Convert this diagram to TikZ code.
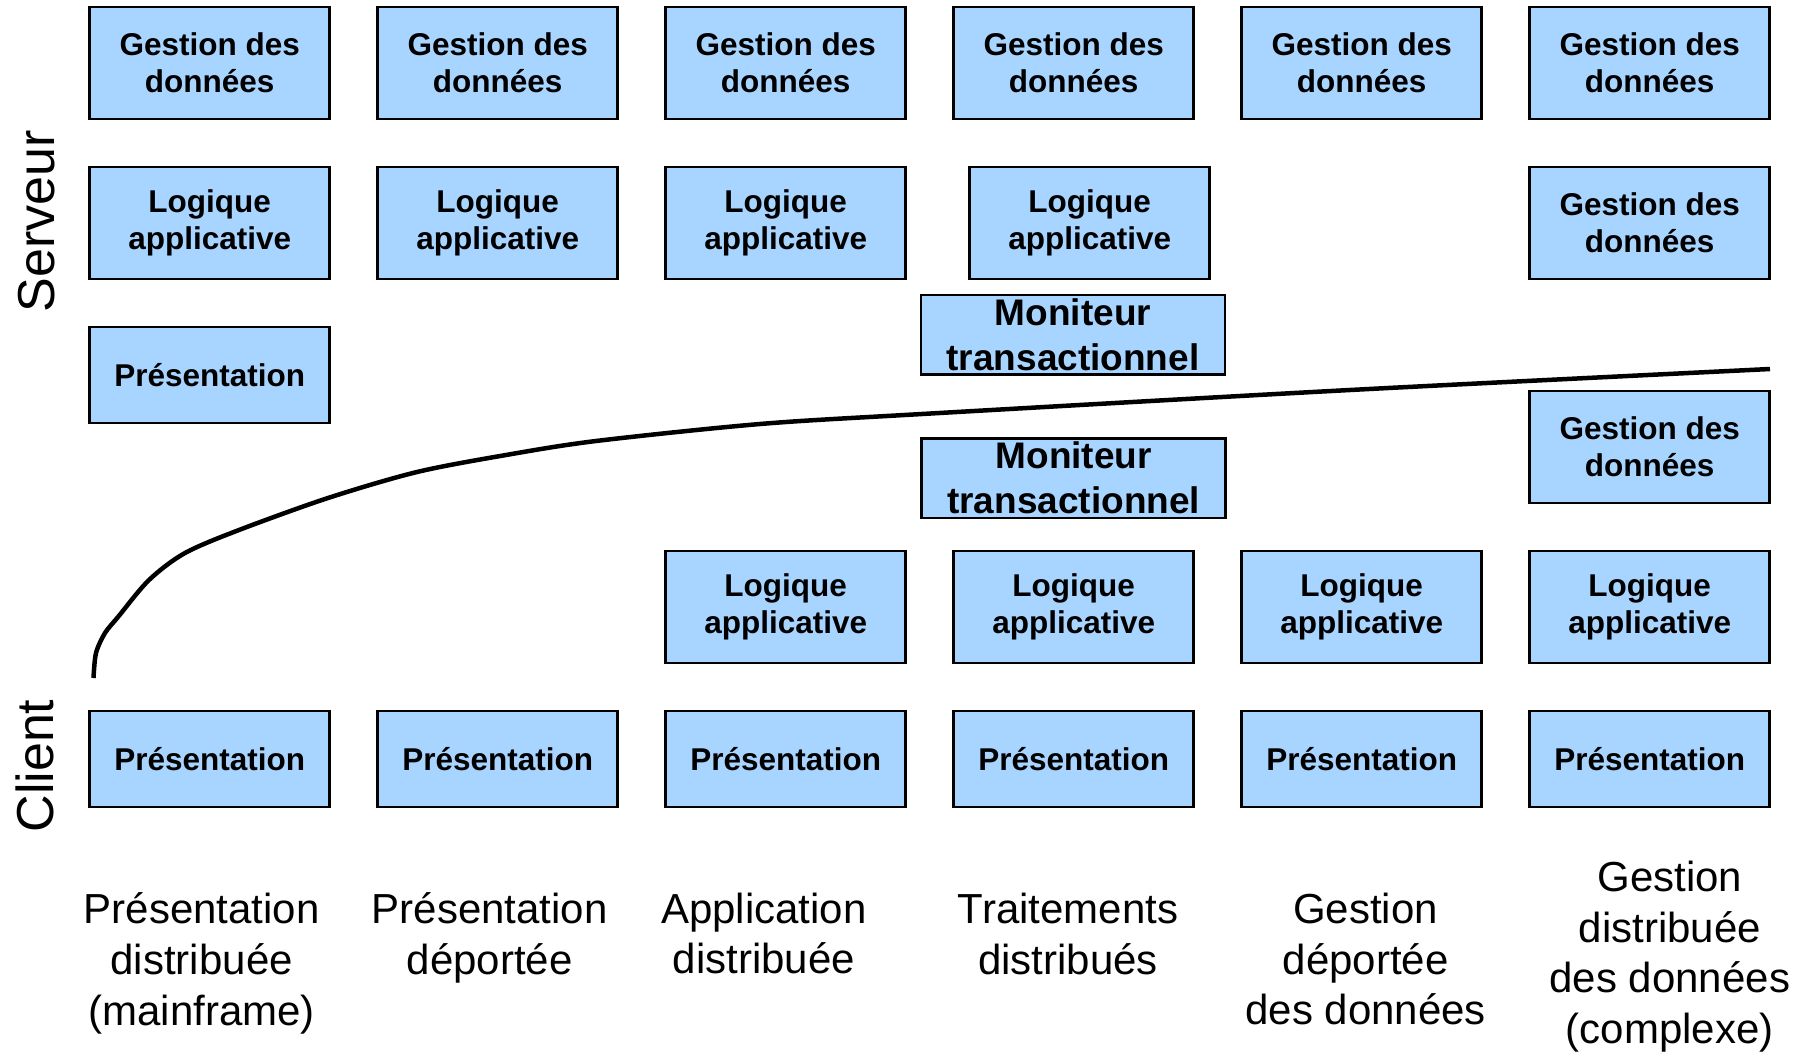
\documentclass[tikz,border=0pt]{standalone}
\usepackage{fontspec}
\setmainfont{Liberation Sans}
\usetikzlibrary{positioning}
\definecolor{bleu}{HTML}{A8D5FF}

\begin{document}
\begin{tikzpicture}[x=1pt,y=-1pt]
\tikzset{BoxStyle/.style={draw, line width=2.5pt, fill=bleu, minimum width=240pt,
  minimum height=112pt, inner sep=0pt, outer sep=0pt, align=center,
  font=\bfseries\fontsize{31.5}{37}\selectfont}}
\tikzset{PresStyle/.style={BoxStyle, minimum height=96pt}}
\tikzset{TpmStyle/.style={BoxStyle, minimum width=304pt, minimum height=79.5pt,
  font=\bfseries\fontsize{37}{45}\selectfont}}
\tikzset{LegendStyle/.style={align=center, inner sep=0pt,
  font=\fontsize{42}{50.7}\selectfont}}
\tikzset{SideStyle/.style={rotate=90, inner sep=0pt, font=\fontsize{52}{60}\selectfont}}
\useasboundingbox (0,0) rectangle (1807,1055);

% cote serveur
\node[BoxStyle] (D1) at (209.7,62.8) {Gestion des\\données};
\node[BoxStyle, right=48pt of D1] (D2) {Gestion des\\données};
\node[BoxStyle, right=48pt of D2] (D3) {Gestion des\\données};
\node[BoxStyle, right=48pt of D3] (D4) {Gestion des\\données};
\node[BoxStyle, right=48pt of D4] (D5) {Gestion des\\données};
\node[BoxStyle, right=48pt of D5] (D6) {Gestion des\\données};
\node[BoxStyle, below=48pt of D1] (L1) {Logique\\applicative};
\node[BoxStyle, below=48pt of D2] (L2) {Logique\\applicative};
\node[BoxStyle, below=48pt of D3] (L3) {Logique\\applicative};
\node[BoxStyle, below=48pt of D4, xshift=16pt] (L4) {Logique\\applicative};
\node[BoxStyle, below=48pt of D6] (D6b) {Gestion des\\données};
\node[PresStyle, below=48pt of L1] (P1) {Présentation};
\node[TpmStyle] (M4) at (1073,334.8) {Moniteur\\transactionnel};

% cote client
\node[PresStyle] (C1) at (209.7,758.9) {Présentation};
\node[PresStyle, right=48pt of C1] (C2) {Présentation};
\node[PresStyle, right=48pt of C2] (C3) {Présentation};
\node[PresStyle, right=48pt of C3] (C4) {Présentation};
\node[PresStyle, right=48pt of C4] (C5) {Présentation};
\node[PresStyle, right=48pt of C5] (C6) {Présentation};
\node[BoxStyle, above=48pt of C3] (A3) {Logique\\applicative};
\node[BoxStyle, above=48pt of C4] (A4) {Logique\\applicative};
\node[BoxStyle, above=48pt of C5] (A5) {Logique\\applicative};
\node[BoxStyle, above=48pt of C6] (A6) {Logique\\applicative};
\node[TpmStyle, above=33pt of A4] (M4b) {Moniteur\\transactionnel};
\node[BoxStyle, above=48pt of A6] (G6) {Gestion des\\données};

\node[SideStyle] (Srv) at (36.9,221) {Serveur};
\node[SideStyle] (Cli) at (34.6,766) {Client};

% frontiere client / serveur
\draw[line width=4.5pt] plot[smooth] coordinates {(93.5,678) (96,653) (105,633)
  (118,617) (149,580) (185,553) (239,530) (328,498) (417,472) (506,455)
  (596,441) (760,424) (922,414) (1350,390) (1770,369)};

% legendes
\node[LegendStyle] (T1) at (201.7,963.5) {Présentation\\distribuée\\(mainframe)};
\node[LegendStyle] (T2) at (489.8,938) {Présentation\\déportée};
\node[LegendStyle] (T3) at (764,933.5) {Application\\distribuée};
\node[LegendStyle] (T4) at (1068,934) {Traitements\\distribués};
\node[LegendStyle] (T5) at (1365.6,959) {Gestion\\déportée\\des données};
\node[LegendStyle] (T6) at (1669.8,956.5) {Gestion\\distribuée\\des données\\(complexe)};
\end{tikzpicture}
\end{document}
